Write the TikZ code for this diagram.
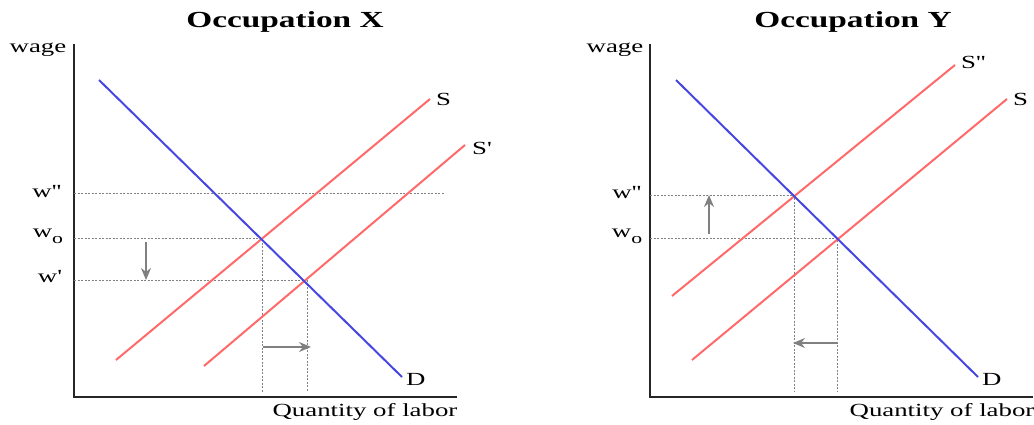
\documentclass[tikz,border=0pt]{standalone}
\usepackage{fontspec}
\usepackage{graphicx}
\setmainfont{Liberation Serif}
\usetikzlibrary{arrows.meta}
\definecolor{supc}{RGB}{255,105,105}
\definecolor{demc}{RGB}{70,70,225}
\definecolor{gridc}{RGB}{130,130,130}
\definecolor{arrc}{RGB}{128,128,128}
\newcommand{\widetxt}[1]{\scalebox{1.45}[1]{#1}}
\newcommand{\wsub}[1]{w\raisebox{-6pt}{\fontsize{15}{15}\selectfont #1}}
\newcommand{\tk}{\textquotesingle}
\tikzset{
  axisline/.style={line width=2.2pt, draw=black!85},
  supply/.style={line width=2pt, draw=supc},
  demand/.style={line width=2pt, draw=demc},
  guide/.style={line width=0.9pt, draw=gridc, dash pattern=on 2pt off 1.5pt},
  shiftarrow/.style={line width=1.5pt, draw=arrc, -{Stealth[length=12pt,width=10pt]}},
  lbl/.style={inner sep=0pt, font=\fontsize{18.5}{18.5}\selectfont},
  ttl/.style={inner sep=0pt, font=\fontsize{23}{23}\selectfont\bfseries},
}
\begin{document}
\begin{tikzpicture}[x=1pt,y=-1pt]
\useasboundingbox (0,0) rectangle (1034,425);
% ================= Occupation X =================
\node[ttl] (tX) at (285,22) {\widetxt{Occupation X}};
\coordinate (xTop) at (74,44);
\coordinate (xO) at (74,397);
\coordinate (xRight) at (457,397);
\draw[axisline] (xTop) -- (xO) -- (xRight);
\node[lbl] (xWage) at (38,50) {\widetxt{wage}};
\node[lbl] (xQty) at (365,412) {\widetxt{Quantity of labor}};
% guides
\coordinate (xE0) at (262,238);
\coordinate (xE1) at (305,280);
\coordinate (xWpp) at (74,193);
\coordinate (xWppEnd) at (444,193);
\coordinate (xWo) at (74,238);
\coordinate (xWp) at (74,280);
\coordinate (xB0) at (262,392);
\coordinate (xB1) at (307,392);
\draw[guide] (xWpp) -- (xWppEnd);
\draw[guide] (xWo) -- (xE0) -- (xB0);
\draw[guide] (xWp) -- (xE1);
\draw[guide] (307,280) -- (xB1);
% curves
\coordinate (xD1) at (99,80);
\coordinate (xD2) at (402,377);
\coordinate (xS1) at (116,360);
\coordinate (xS2) at (430,99);
\coordinate (xSp1) at (204,366);
\coordinate (xSp2) at (465,145);
\draw[supply] (xS1) -- (xS2);
\draw[supply] (xSp1) -- (xSp2);
\draw[demand] (xD1) -- (xD2);
\node[lbl, anchor=west] (xSl) at (436,99) {\widetxt{S}};
\node[lbl, anchor=west] (xSpl) at (472,148) {\widetxt{S\tk}};
\node[lbl, anchor=west] (xDl) at (406,379) {\widetxt{D}};
\node[lbl] (xLwpp) at (47,192) {\widetxt{w\tk\tk}};
\node[lbl] (xLwo) at (48,236) {\widetxt{\wsub{o}}};
\node[lbl] (xLwp) at (50,277) {\widetxt{w\tk}};
% shift arrows
\coordinate (xAd1) at (146,242);
\coordinate (xAd2) at (146,280);
\coordinate (xAr1) at (263,347);
\coordinate (xAr2) at (311,347);
\draw[shiftarrow] (xAd1) -- (xAd2);
\draw[shiftarrow] (xAr1) -- (xAr2);
% ================= Occupation Y =================
\node[ttl] (tY) at (853,22) {\widetxt{Occupation Y}};
\coordinate (yTop) at (650,44);
\coordinate (yO) at (650,397);
\coordinate (yRight) at (1033,397);
\draw[axisline] (yTop) -- (yO) -- (yRight);
\node[lbl] (yWage) at (615,50) {\widetxt{wage}};
\node[lbl] (yQty) at (942,412) {\widetxt{Quantity of labor}};
\coordinate (yE0) at (837,238);
\coordinate (yE1) at (794,195);
\coordinate (yWpp) at (650,195);
\coordinate (yWo) at (650,238);
\coordinate (yB0) at (837,392);
\coordinate (yB1) at (794,392);
\draw[guide] (yWpp) -- (yE1) -- (yB1);
\draw[guide] (yWo) -- (yE0) -- (yB0);
\coordinate (yD1) at (676,80);
\coordinate (yD2) at (978,377);
\coordinate (yS1) at (692,360);
\coordinate (yS2) at (1007,99);
\coordinate (ySpp1) at (672,296);
\coordinate (ySpp2) at (955,65);
\draw[supply] (yS1) -- (yS2);
\draw[supply] (ySpp1) -- (ySpp2);
\draw[demand] (yD1) -- (yD2);
\node[lbl, anchor=west] (ySl) at (1013,99) {\widetxt{S}};
\node[lbl, anchor=west] (ySppl) at (961,62) {\widetxt{S\tk\tk}};
\node[lbl, anchor=west] (yDl) at (982,379) {\widetxt{D}};
\node[lbl] (yLwpp) at (627,193) {\widetxt{w\tk\tk}};
\node[lbl] (yLwo) at (627,236) {\widetxt{\wsub{o}}};
\coordinate (yAu1) at (709,234);
\coordinate (yAu2) at (709,195);
\coordinate (yAl1) at (837,343);
\coordinate (yAl2) at (793,343);
\draw[shiftarrow] (yAu1) -- (yAu2);
\draw[shiftarrow] (yAl1) -- (yAl2);
\end{tikzpicture}
\end{document}
